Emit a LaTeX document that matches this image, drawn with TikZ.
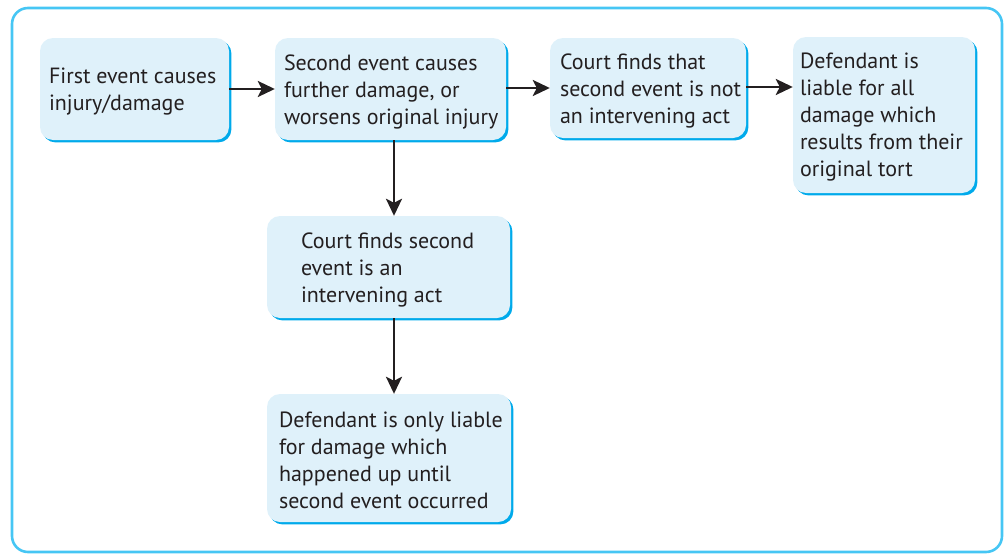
\documentclass[tikz,border=0pt]{standalone}
\usepackage{fontspec}
\setmainfont{PT Sans}
\usetikzlibrary{arrows.meta,shadows}
\definecolor{boxfill}{RGB}{223,241,250}
\definecolor{boxshade}{RGB}{0,170,235}
\definecolor{framecol}{RGB}{70,198,244}
\definecolor{txt}{RGB}{35,31,32}
\begin{document}
\begin{tikzpicture}[x=1pt,y=-1pt,
  box/.style={rectangle, rounded corners=13pt, fill=boxfill, inner sep=0pt,
    general shadow={fill=boxshade, rounded corners=13pt, shadow xshift=2.4pt, shadow yshift=-2.4pt}},
  label text/.style={anchor=west, align=left, inner sep=0pt, yshift=-2.5pt,
    font=\fontsize{22}{27}\selectfont, text=txt},
  arr/.style={line width=2.7pt, draw=txt, -{Stealth[length=17pt,width=16pt,inset=4pt]}}]
\useasboundingbox (0,0) rectangle (1004,554);
\draw[framecol, line width=2.6pt, rounded corners=16pt] (12,8) rectangle (1002,552);
\node[box, minimum width=189pt, minimum height=102pt] (b1) at (134.5,89) {};
\node[box, minimum width=231pt, minimum height=102pt] (b2) at (390.5,89) {};
\node[box, minimum width=196pt, minimum height=100pt] (b3) at (648,88) {};
\node[box, minimum width=182pt, minimum height=156pt] (b4) at (884,115) {};
\node[box, minimum width=243pt, minimum height=102pt] (b5) at (388.5,267) {};
\node[box, minimum width=244pt, minimum height=128pt] (b6) at (389,458) {};
\node[label text] (t1) at ([xshift=9pt]b1.west) {First event causes\\injury/damage};
\node[label text] (t2) at ([xshift=9pt]b2.west) {Second event causes\\further damage, or\\worsens original injury};
\node[label text] (t3) at ([xshift=10pt]b3.west) {Court finds that\\second event is not\\an intervening act};
\node[label text] (t4) at ([xshift=7pt]b4.west) {Defendant is\\liable for all\\damage which\\results from their\\original tort};
\node[label text] (t5) at ([xshift=34pt]b5.west) {Court finds second\\event is an\\intervening act};
\node[label text] (t6) at ([xshift=12pt]b6.west) {Defendant is only liable\\for damage which\\happened up until\\second event occurred};
\draw[arr] (b1.east) -- (b2.west);
\draw[arr] ([yshift=1pt]b2.east) -- ([yshift=1pt]b2.east -| b3.west);
\draw[arr] ([yshift=1pt]b3.east) -- ([yshift=1pt]b3.east -| b4.west);
\draw[arr] ([xshift=3.5pt]b2.south) -- ([xshift=3.5pt]b2.south |- b5.north);
\draw[arr] ([xshift=5.5pt]b5.south) -- ([xshift=5.5pt]b5.south |- b6.north);
\end{tikzpicture}
\end{document}
